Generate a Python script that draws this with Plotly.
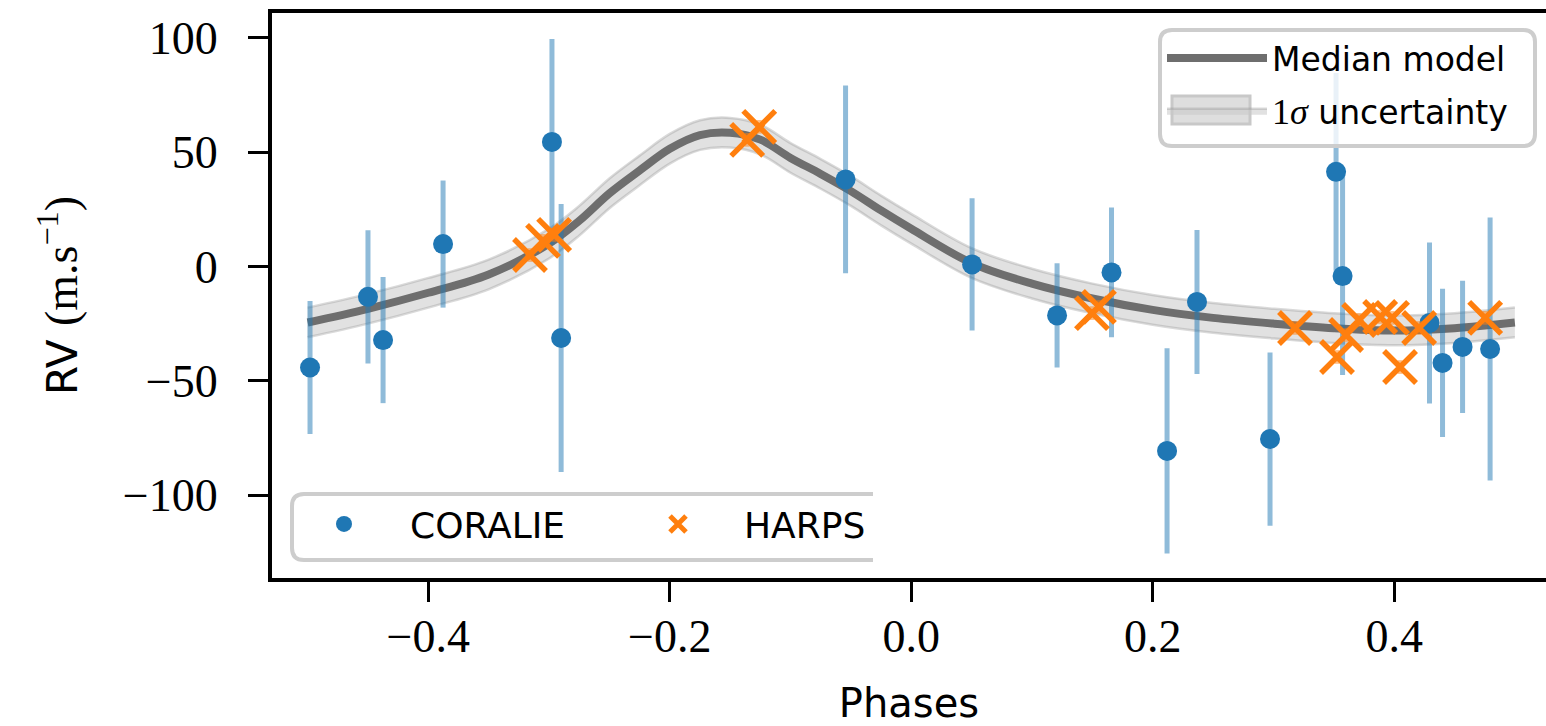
import plotly.graph_objects as go

# ---------------- data ----------------
coralie_phase = [-0.498, -0.450, -0.4375, -0.3878, -0.2976, -0.290, -0.0544, 0.0504,
                 0.1208, 0.1659, 0.2367, 0.2119, 0.2972, 0.3519, 0.3573, 0.4293,
                 0.4401, 0.4567, 0.4795]
coralie_rv = [-44.2, -13.3, -32.2, 9.8, 54.5, -31.3, 38.1, 0.9,
              -21.4, -2.6, -15.5, -80.7, -75.5, 41.4, -4.2, -24.7,
              -42.2, -35.2, -36.1]
coralie_err = [29.1, 29.1, 27.6, 27.8, 45.0, 58.6, 41.1, 28.9,
               22.8, 28.4, 31.5, 44.9, 37.9, 43.3, 43.3, 35.2,
               32.4, 28.9, 57.5]

harps_phase = [-0.3158, -0.3050, -0.2958, -0.1359, -0.1259, 0.1497, 0.1555, 0.3179,
               0.3527, 0.3602, 0.3710, 0.3884, 0.3983, 0.4049, 0.4207, 0.4754]
harps_rv = [5.0, 11.2, 13.8, 55.4, 61.1, -20.4, -17.7, -26.9,
            -39.6, -30.0, -23.4, -22.1, -22.5, -44.0, -26.9, -22.5]
harps_err = [3.0, 3.0, 3.0, 3.0, 3.0, 3.0, 3.0, 3.0,
             3.0, 3.0, 3.0, 3.0, 3.0, 3.0, 3.0, 3.0]

model_phase = [-0.500, -0.450, -0.400, -0.350, -0.300, -0.275, -0.250, -0.225, -0.200,
               -0.175, -0.150, -0.125, -0.100, -0.075, -0.050, -0.025, 0.000, 0.050,
               0.100, 0.150, 0.200, 0.250, 0.300, 0.350, 0.400, 0.450, 0.500]
model_rv = [-24.5, -18.5, -11.5, -3.5, 10.0, 20.0, 32.0, 42.0, 51.5,
            57.5, 58.5, 55.5, 47.5, 40.5, 33.0, 24.5, 16.5, 1.5,
            -7.5, -14.0, -19.0, -22.5, -25.0, -27.0, -28.0, -27.0, -24.5]
model_sigma = [6.5] * len(model_phase)

x_ticks = [-0.4, -0.2, 0.0, 0.2, 0.4]
x_ticktext = ["\u22120.4", "\u22120.2", "0.0", "0.2", "0.4"]
y_ticks = [-100, -50, 0, 50, 100]
y_ticktext = ["\u2212100", "\u221250", "0", "50", "100"]

# ---------------- layout geometry ----------------
W, H = 1546, 726
L, R, T, B = 272, 1546, 13, 578


def fx(px):
    return (px - L) / (R - L)


def fy(py):
    return (B - py) / (B - T)


SANS = "DejaVu Sans"
SERIF = "Liberation Serif"
C0 = "#1f77b4"
C1 = "#ff7f0e"

model_lo = [m - s for m, s in zip(model_rv, model_sigma)]
model_hi = [m + s for m, s in zip(model_rv, model_sigma)]

fig = go.Figure()

# uncertainty band
fig.add_trace(go.Scatter(x=model_phase, y=model_lo, mode="lines",
                         line=dict(color="rgba(150,150,150,0.35)", width=2.5, shape="spline"),
                         showlegend=False, hoverinfo="skip", legend="legend", legendgroup="band"))
fig.add_trace(go.Scatter(x=model_phase, y=model_hi, mode="lines", fill="tonexty",
                         fillcolor="rgba(200,200,200,0.55)",
                         line=dict(color="rgba(150,150,150,0.35)", width=2.5, shape="spline"),
                         name="<span style='font-family:Liberation Serif;font-size:36px'>1<i>σ</i></span> uncertainty",
                         legend="legend", legendgroup="band", legendrank=2))
# median model
fig.add_trace(go.Scatter(x=model_phase, y=model_rv, mode="lines",
                         line=dict(color="rgb(110,110,110)", width=8, shape="spline"),
                         name="Median model", legend="legend", legendgroup="model", legendrank=1))

# CORALIE
fig.add_trace(go.Scatter(x=coralie_phase, y=coralie_rv, mode="markers", name="CORALIE",
                         marker=dict(color=C0, size=20, line=dict(width=0)),
                         error_y=dict(type="data", array=coralie_err, visible=True,
                                      color="rgba(31,119,180,0.5)", thickness=5, width=0),
                         legend="legend2"))
# HARPS
fig.add_trace(go.Scatter(x=harps_phase, y=harps_rv, mode="markers", name="HARPS",
                         marker=dict(color=C1, size=32, symbol="x-thin",
                                     line=dict(color=C1, width=5.5)),
                         error_y=dict(type="data", array=harps_err, visible=True,
                                      color="rgba(255,127,14,0.5)", thickness=5, width=0),
                         legend="legend2"))


# legend frames (rounded, semi-transparent)
def rounded_box(x1, y1, x2, y2, r, open_right=False):
    rx = r / (R - L)
    ry = r / (B - T)
    X1, X2 = fx(x1), fx(x2)
    Y1, Y2 = fy(y1), fy(y2)  # Y1 top, Y2 bottom (paper)
    if open_right:
        fill = (f"M {X1+rx} {Y1} L {X2} {Y1} L {X2} {Y2} L {X1+rx} {Y2} "
                f"Q {X1} {Y2} {X1} {Y2+ry} L {X1} {Y1-ry} Q {X1} {Y1} {X1+rx} {Y1} Z")
        border = (f"M {X2} {Y1} L {X1+rx} {Y1} Q {X1} {Y1} {X1} {Y1-ry} "
                  f"L {X1} {Y2+ry} Q {X1} {Y2} {X1+rx} {Y2} L {X2} {Y2}")
    else:
        fill = (f"M {X1+rx} {Y1} L {X2-rx} {Y1} Q {X2} {Y1} {X2} {Y1-ry} L {X2} {Y2+ry} "
                f"Q {X2} {Y2} {X2-rx} {Y2} L {X1+rx} {Y2} Q {X1} {Y2} {X1} {Y2+ry} "
                f"L {X1} {Y1-ry} Q {X1} {Y1} {X1+rx} {Y1} Z")
        border = fill
    return [
        dict(type="path", xref="paper", yref="paper", path=fill, layer="above",
             fillcolor="rgba(255,255,255,0.8)", line=dict(width=0)),
        dict(type="path", xref="paper", yref="paper", path=border, layer="above",
             fillcolor="rgba(0,0,0,0)", line=dict(color="rgb(205,205,205)", width=4)),
    ]


shapes = rounded_box(1160, 30, 1535, 146, 12) + rounded_box(292, 494, 873, 560, 12, open_right=True)
# legend patch for the 1-sigma band
shapes.append(dict(type="rect", xref="paper", yref="paper",
                   x0=fx(1172), x1=fx(1250), y0=fy(124), y1=fy(96), layer="above",
                   fillcolor="rgb(222,222,222)", line=dict(color="rgb(200,200,200)", width=3)))

fig.update_layout(
    width=W, height=H,
    margin=dict(l=L, r=W - R, t=T, b=H - B),
    paper_bgcolor="white", plot_bgcolor="white",
    showlegend=True,
    shapes=shapes,
    legend=dict(x=fx(1162), y=fy(30), xanchor="left", yanchor="top",
                bgcolor="rgba(0,0,0,0)", borderwidth=0,
                font=dict(family=SANS, size=33, color="black"),
                itemwidth=100, tracegroupgap=7, traceorder="grouped"),
    legend2=dict(x=fx(278), y=fy(494), xanchor="left", yanchor="top",
                 orientation="h",
                 bgcolor="rgba(0,0,0,0)", borderwidth=0,
                 font=dict(family=SANS, size=36, color="black"),
                 itemwidth=122, entrywidthmode="pixels", entrywidth=197),
    xaxis=dict(range=[-0.5295, 0.5258], tickvals=x_ticks, ticktext=x_ticktext,
               showgrid=False, zeroline=False,
               showline=True, linecolor="black", linewidth=4, mirror=True,
               ticks="outside", ticklen=20, tickwidth=3, tickcolor="black",
               ticklabelstandoff=-5,
               tickfont=dict(family=SERIF, size=46, color="black"),
               title=dict(text="Phases", font=dict(family=SANS, size=40, color="black"), standoff=30)),
    yaxis=dict(range=[-136.3, 110.9], tickvals=y_ticks, ticktext=y_ticktext,
               showgrid=False, zeroline=False,
               showline=True, linecolor="black", linewidth=4, mirror=False,
               ticks="outside", ticklen=20, tickwidth=3, tickcolor="black",
               ticklabelstandoff=21,
               tickfont=dict(family=SERIF, size=46, color="black"),
               title=dict(text="RV <span style='font-family:Liberation Serif;font-size:46px'>(m.s<sup>\u22121</sup>)</span>",
                          font=dict(family=SANS, size=42, color="black"), standoff=33)),
)

fig.write_html("out.html")
